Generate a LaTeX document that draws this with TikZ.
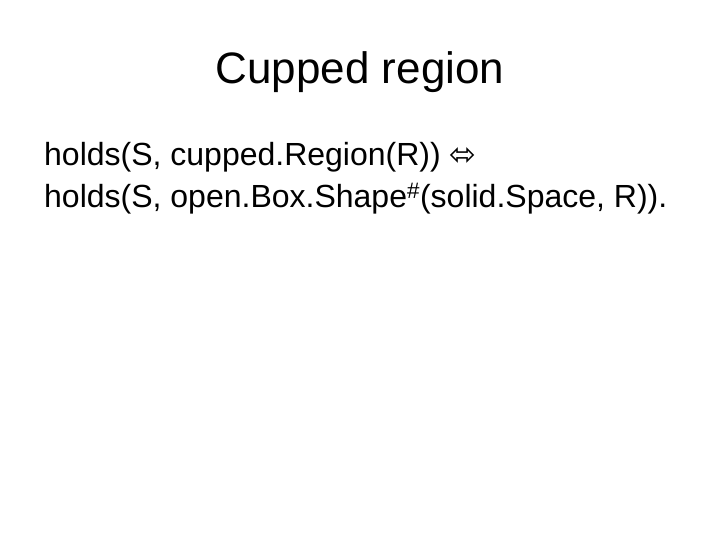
\documentclass[tikz,border=0pt]{standalone}
\usepackage{fontspec}
\setmainfont{Liberation Sans}
\newfontfamily\symfont{DejaVu Sans}
\begin{document}
\begin{tikzpicture}[x=1pt,y=1pt,every node/.style={inner sep=0pt,anchor=base west}]
\useasboundingbox[fill=white] (0,0) rectangle (720,540);
\node[anchor=base] (title) at (360,540-84) {\fontsize{44}{50}\selectfont Cupped region};
\node (l1) at (44,540-166) {\fontsize{32}{38}\selectfont holds(S, cupped.Region(R)) {\symfont ⬄}};
\node (l2) at (44,540-208) {\fontsize{32}{38}\selectfont holds(S, open.Box.Shape\textsuperscript{\#}(solid.Space, R)).};
\end{tikzpicture}
\end{document}
